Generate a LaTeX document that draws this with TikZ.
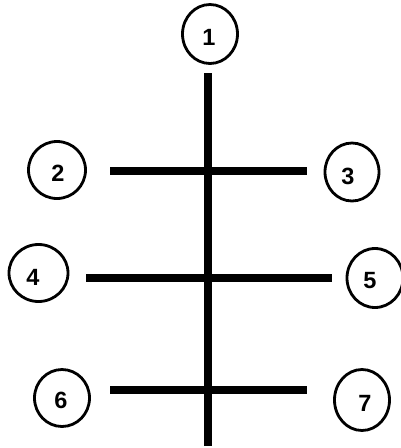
\documentclass[tikz,border=0pt]{standalone}
\usepackage{fontspec}
\setmainfont{Liberation Sans}
\usetikzlibrary{shapes.geometric}
\begin{document}
\begin{tikzpicture}[x=1pt,y=-1pt,
  ring/.style={draw=black,line width=2.8pt,ellipse,inner sep=0pt},
  num/.style={font=\fontsize{23.5}{27}\selectfont\bfseries,inner sep=0pt},
  bar/.style={line width=8pt,line cap=butt}]
\useasboundingbox (0,0) rectangle (400,448);
% circles
\node[ring,minimum width=55pt,minimum height=59pt] (c1) at (210,34) {};
\node[ring,minimum width=57pt,minimum height=57pt] (c2) at (57,170) {};
\node[ring,minimum width=54pt,minimum height=58pt] (c3) at (352,172) {};
\node[ring,minimum width=59pt,minimum height=57pt] (c4) at (38.5,273) {};
\node[ring,minimum width=56pt,minimum height=59pt] (c5) at (375,278) {};
\node[ring,minimum width=55pt,minimum height=57pt] (c6) at (62,398) {};
\node[ring,minimum width=55pt,minimum height=61pt] (c7) at (362,400) {};
% labels
\node[num] (n1) at (209,37) {1};
\node[num] (n2) at (58,173) {2};
\node[num] (n3) at (348,176) {3};
\node[num] (n4) at (33,277) {4};
\node[num] (n5) at (370,281) {5};
\node[num] (n6) at (61,400) {6};
\node[num] (n7) at (365,403) {7};
% lines
\coordinate (vt) at (208,73);
\coordinate (vb) at (208,446);
\coordinate (a1) at (110,171);
\coordinate (a2) at (307,171);
\coordinate (b1) at (86,278);
\coordinate (b2) at (332,278);
\coordinate (d1) at (110,390);
\coordinate (d2) at (307,390);
\draw[bar] (vt) -- (vb);
\draw[bar] (a1) -- (a2);
\draw[bar] (b1) -- (b2);
\draw[bar] (d1) -- (d2);
\end{tikzpicture}
\end{document}
